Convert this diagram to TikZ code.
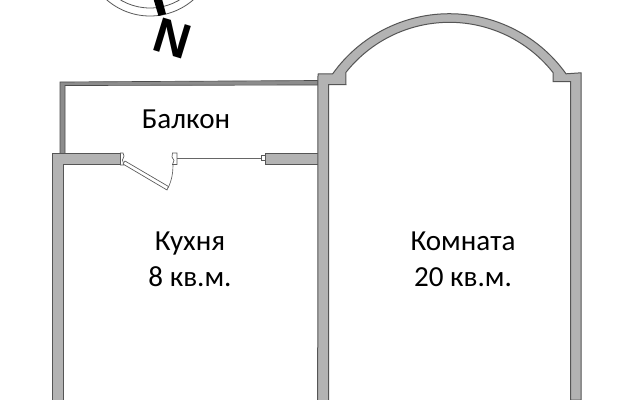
\documentclass[tikz,border=0pt]{standalone}
\usepackage{fontspec}
\setmainfont{Carlito}
\newfontfamily\northfont{Liberation Sans}
\definecolor{wallfill}{HTML}{B3B3B3}
\definecolor{walledge}{HTML}{555555}
\definecolor{walllight}{HTML}{8C8C8C}
\tikzset{
  wall/.style={fill=wallfill,draw=walledge,line width=0.75pt},
  label/.style={font=\fontsize{21.8}{27}\selectfont,align=center,inner sep=0pt,text=black},
  thin line/.style={draw=black!60,line width=0.5pt},
  leaf/.style={draw=black!65,fill=white,line width=0.5pt},
}
\begin{document}
\begin{tikzpicture}[x=0.75pt,y=-0.75pt]
\useasboundingbox (0,0) rectangle (640,400);
\fill[white] (0,0) rectangle (640,400);
% compass
\begin{scope}
\clip (0,0) rectangle (640,400);
\draw[draw=black!65,line width=0.6pt] (150,-50) circle[radius=66];
\draw[draw=black!65,line width=0.6pt] (150,-50) circle[radius=58];
\fill[black] (153.5,-1) -- (162,-1) -- (166,14) -- (158.5,16) -- cycle;
\end{scope}
\node[rotate=-17,inner sep=0pt,font=\northfont\bfseries\fontsize{37}{42}\selectfont] (north) at (172.5,38.5) {N};
% balcony
\draw[fill=walllight,draw=black!70,line width=0.5pt] (60,154) -- (60,82) -- (318,80.5) -- (318,85) -- (65,85.5) -- (65,154) -- cycle;
% walls
\draw[wall] (52,400) -- (52,153.5) -- (121,153.5) -- (121,164) -- (63,164) -- (63,400);
\draw[wall] (265,153.5) rectangle (318,164);
\draw[wall] (317.7,400) -- (318,74) -- (332.7,73.8) arc[start angle=215.5,end angle=324.5,radius=143.3] -- (581,72.8) -- (581,400) -- (570.5,400) -- (570.7,81.7) -- (553,81.7) -- (553,72.5) arc[start angle=321.7,end angle=218.3,radius=132] -- (346,84.7) -- (328.7,84.7) -- (328.7,400);
\fill[wallfill] (318.5,154) rectangle (319.5,163.5);
% door and window ends
\draw[leaf] (120.5,153) -- (120.5,165) -- (124,165) -- (122.5,160) -- (124,156) -- (123,153) -- cycle;
\draw[leaf] (125,161) -- (123,164) -- (167,190) -- (168.5,186.5) -- cycle;
\draw[thin line] (168,188) .. controls (172,180) and (173,172) .. (173,165);
\draw[leaf] (172.5,153) -- (177,153) -- (177,164.5) -- (172.5,164.5) -- (174,160.5) -- (172,157) -- cycle;
\draw[thin line] (177,158.5) -- (261,158.5);
\draw[leaf] (261,155.5) rectangle (265,160.5);
% labels
\node[label] (balcony) at (186,119) {Балкон};
\node[label] (kitchen) at (190,259) {Кухня\\8 кв.м.};
\node[label] (room) at (463,259) {Комната\\20 кв.м.};
\end{tikzpicture}
\end{document}
